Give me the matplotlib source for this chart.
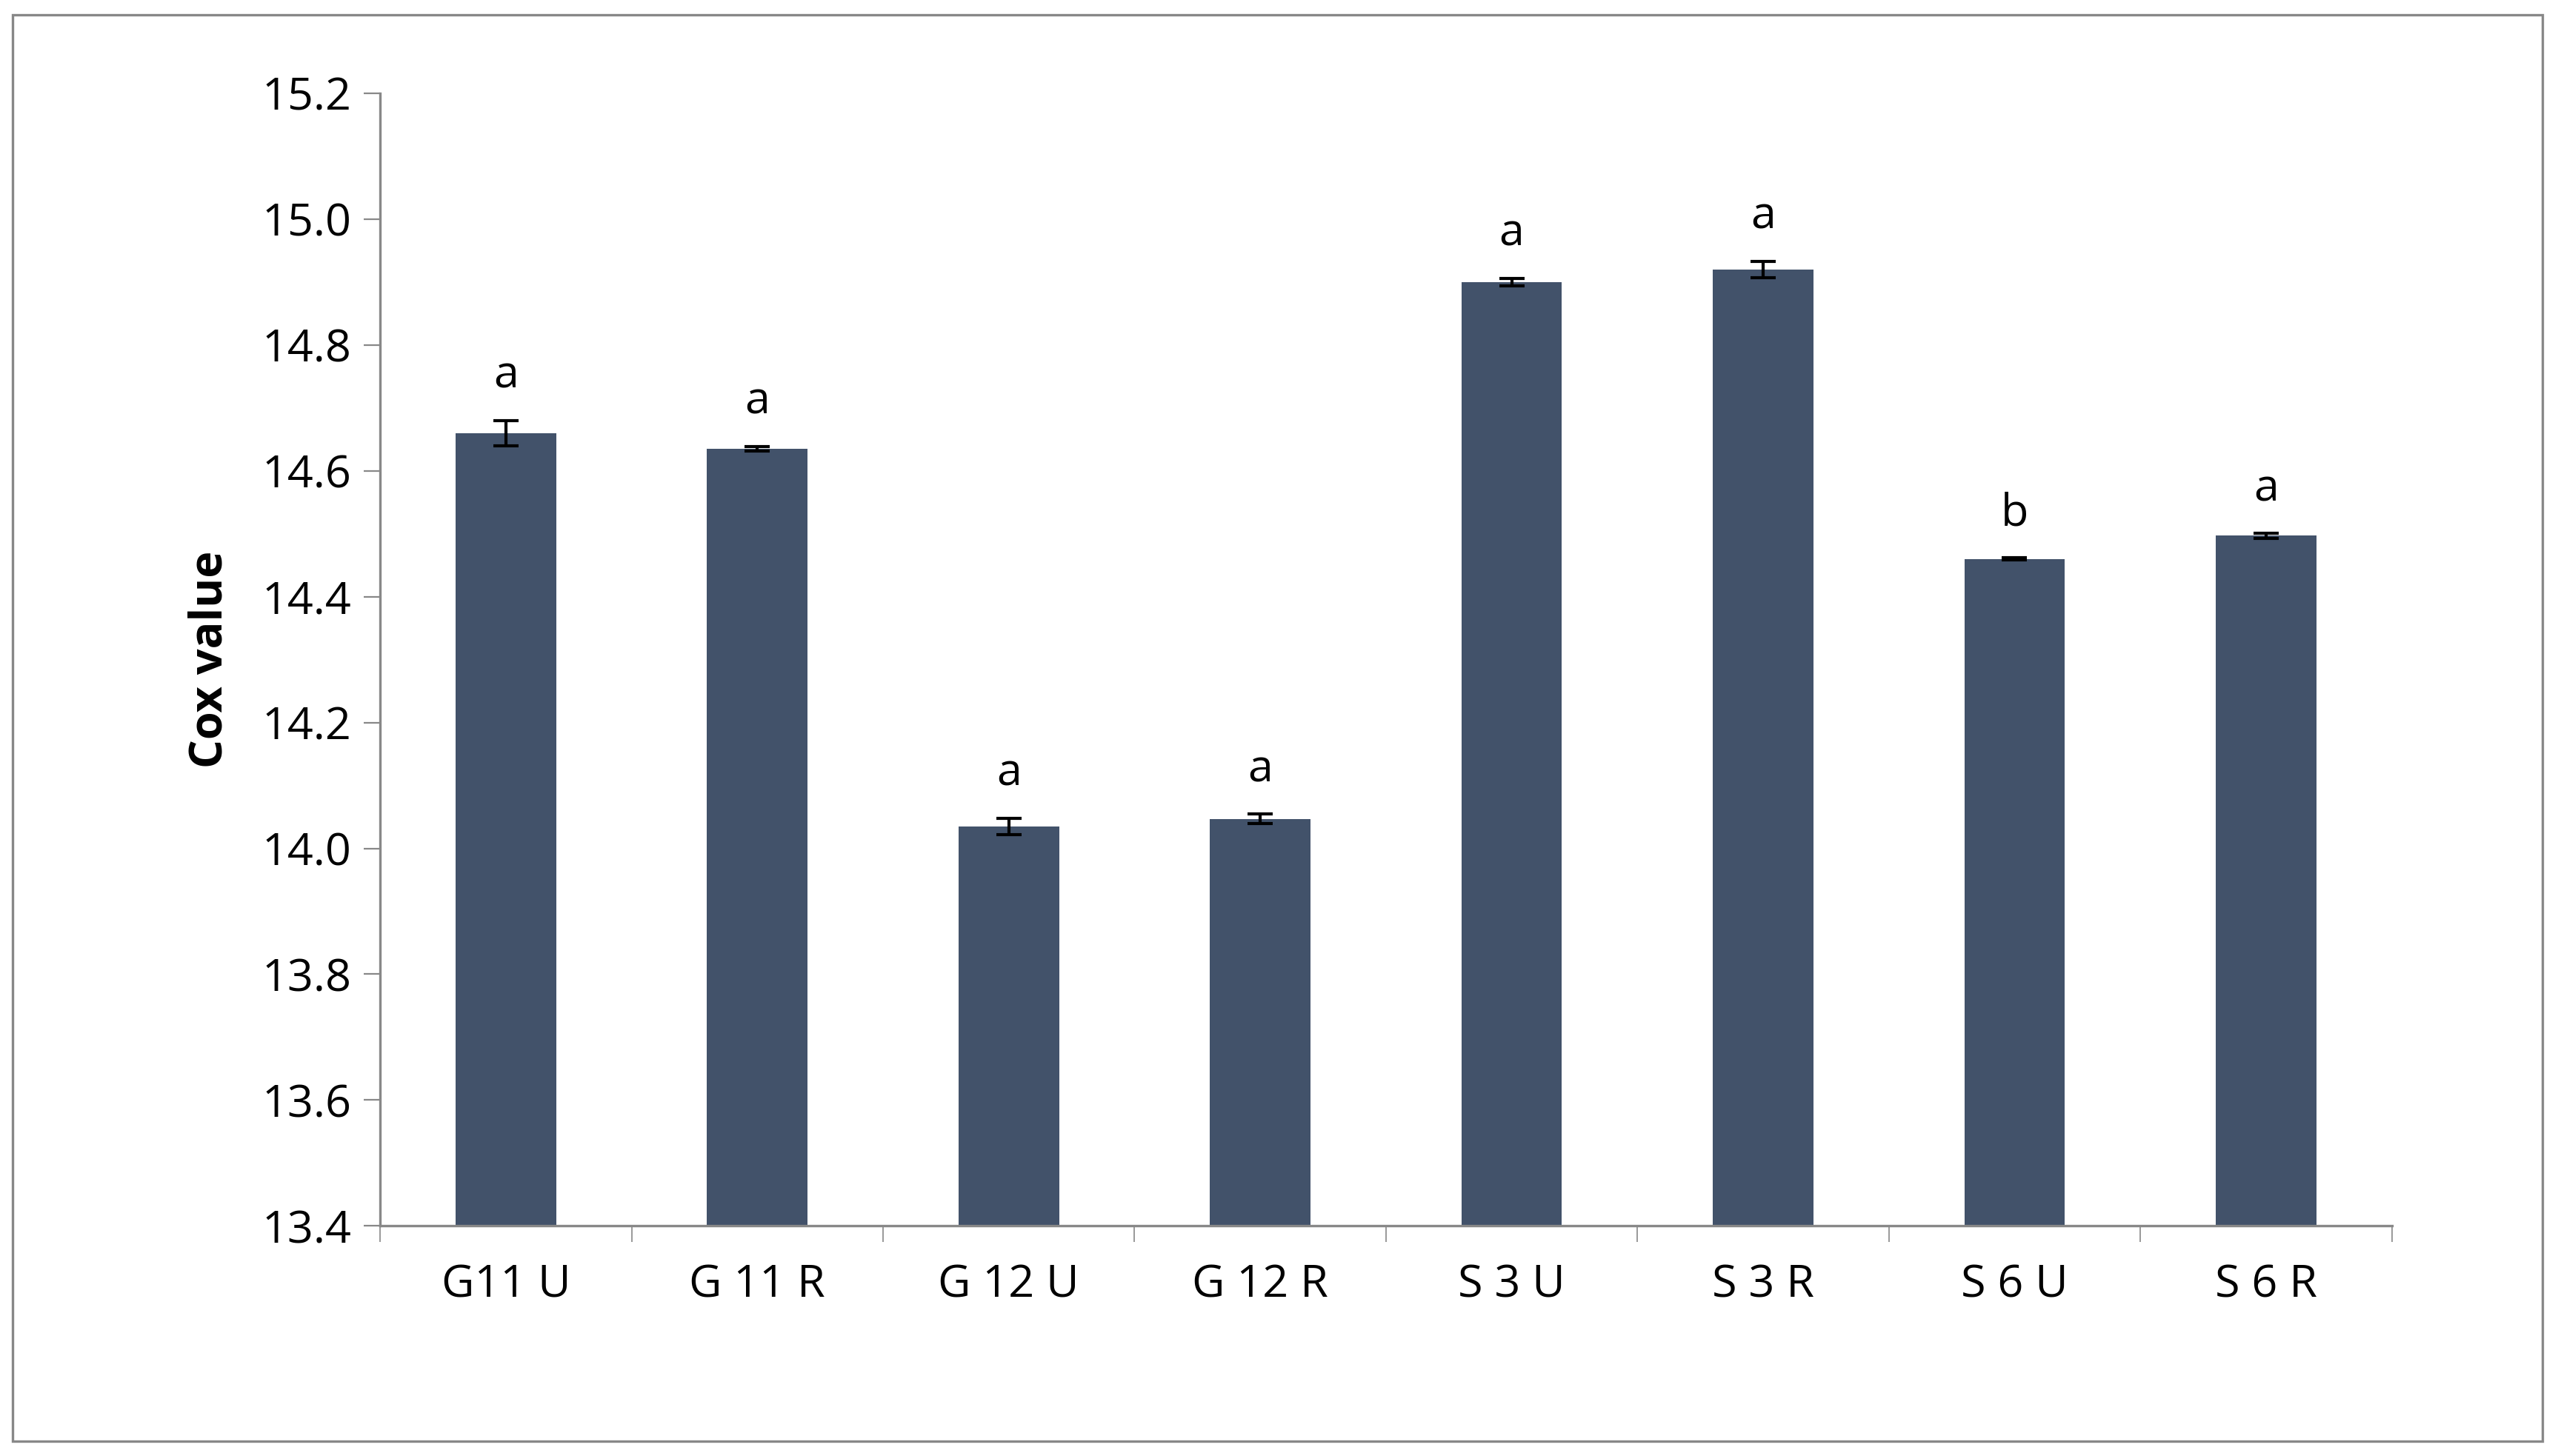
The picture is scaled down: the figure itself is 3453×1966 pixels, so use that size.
import matplotlib
matplotlib.use("Agg")
import matplotlib.pyplot as plt
from matplotlib.patches import Rectangle
import numpy as np

categories = ["G11 U", "G 11 R", "G 12 U", "G 12 R", "S 3 U", "S 3 R", "S 6 U", "S 6 R"]
values = [14.66, 14.635, 14.035, 14.047, 14.900, 14.920, 14.460, 14.497]
errors = [0.020, 0.004, 0.013, 0.008, 0.006, 0.013, 0.002, 0.004]
letters = ["a", "a", "a", "a", "a", "a", "b", "a"]

plt.rcParams['font.family'] = ['Open Sans', 'DejaVu Sans']
fig = plt.figure(figsize=(17.265, 9.83), dpi=200)
ax = fig.add_axes([0.1486, 0.158, 0.7864, 0.778])
x = np.arange(len(categories))
ax.bar(x, np.array(values) - 13.4, bottom=13.4, width=0.4, color="#42526A", zorder=2)
ax.errorbar(x, values, yerr=errors, fmt="none", ecolor="black", elinewidth=1.5, capsize=6, capthick=1.5, zorder=3)
for xi, v, e, l in zip(x, values, errors, letters):
    ax.text(xi, v + e + 0.035, l, ha="center", va="bottom", fontsize=22)
ax.set_xlim(-0.5, len(categories) - 0.5)
ax.set_ylim(13.4, 15.2)
ax.set_yticks(np.arange(13.4, 15.21, 0.2))
ax.set_yticklabels([f"{t:.1f}" for t in np.arange(13.4, 15.21, 0.2)], fontsize=22)
ax.set_xticks(x)
ax.set_xticklabels(categories, fontsize=22)
ax.set_xticks(np.arange(-0.5, len(categories), 1), minor=True)
ax.tick_params(axis="x", which="major", length=0, pad=18)
ax.tick_params(axis="x", which="minor", length=8, color="#888888", direction="out")
ax.tick_params(axis="y", length=8, color="#888888", direction="out", pad=6)
ax.set_ylabel("Cox value", fontsize=22, fontweight="bold", labelpad=14)
for s in ["top", "right"]:
    ax.spines[s].set_visible(False)
for s in ["left", "bottom"]:
    ax.spines[s].set_color("#888888")
    ax.spines[s].set_linewidth(1.2)
fig.patches.append(Rectangle((0.005, 0.01), 0.989, 0.98, transform=fig.transFigure,
                             fill=False, edgecolor="#888888", linewidth=1.2))
fig.savefig("out.png", dpi=200)
